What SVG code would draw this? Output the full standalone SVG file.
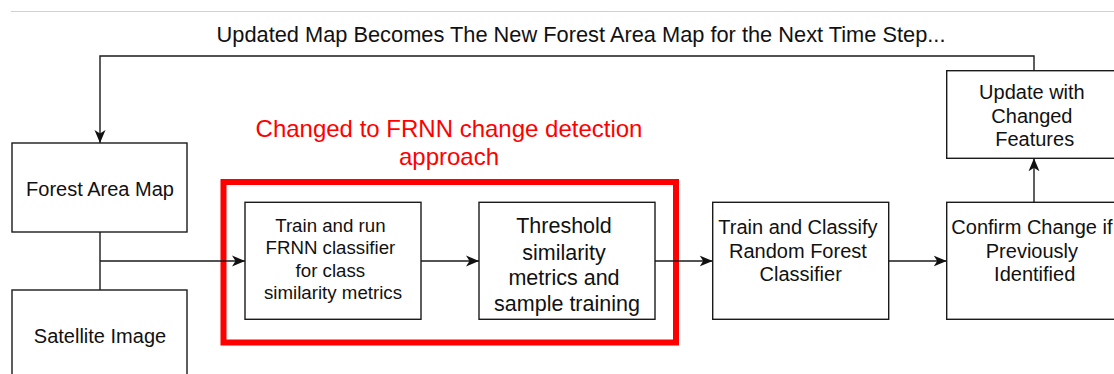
<svg xmlns="http://www.w3.org/2000/svg" width="1114" height="374" viewBox="0 0 1114 374">
  <style>
    .box { fill: #ffffff; stroke: #1a1a1a; stroke-width: 1.4; }
    .wire { fill: none; stroke: #1a1a1a; stroke-width: 1.4; }
    .lbl { font-family: "Liberation Sans", Arial, Helvetica, sans-serif; font-size: 20px; fill: #111111; text-anchor: middle; }
    .red { font-family: "Liberation Sans", Arial, Helvetica, sans-serif; font-size: 24px; fill: #ff0000; text-anchor: middle; }
  </style>
  <defs>
    <marker id="arrow" markerUnits="userSpaceOnUse" markerWidth="14" markerHeight="12" viewBox="0 0 14 12" refX="13" refY="6" orient="auto">
      <path d="M0,0.5 L13,6 L0,11.5 L3.5,6 Z" fill="#111111"/>
    </marker>
  </defs>

  <rect width="1114" height="374" fill="#ffffff"/>
  <line x1="11" y1="11.5" x2="1114" y2="11.5" stroke="#d0d0d0" stroke-width="1"/>

  <text class="lbl" x="581" y="42.3" style="font-size:21.8px">Updated Map Becomes The New Forest Area Map for the Next Time Step...</text>

  <!-- highlight frame around the FRNN stage -->
  <g id="frnn-highlight">
    <rect x="223.5" y="182" width="452.5" height="160.5" fill="none" stroke="#ff0000" stroke-width="6"/>
    <text class="red" x="449" y="136.7">Changed to FRNN change detection</text>
    <text class="red" x="449" y="165">approach</text>
  </g>

  <g id="connectors">
    <path class="wire" d="M1034,70.7 V56 H100 V143" marker-end="url(#arrow)"/>
    <path class="wire" d="M100,232 V290"/>
    <path class="wire" d="M100,261 H245" marker-end="url(#arrow)"/>
    <path class="wire" d="M421,261 H479" marker-end="url(#arrow)"/>
    <path class="wire" d="M655,261 H712.7" marker-end="url(#arrow)"/>
    <path class="wire" d="M888.7,261 H946.7" marker-end="url(#arrow)"/>
    <path class="wire" d="M1034,202.3 V158.3" marker-end="url(#arrow)"/>
  </g>

  <g id="forest-area-map">
    <rect class="box" x="12" y="143" width="175" height="89"/>
    <text class="lbl" x="100" y="196">Forest Area Map</text>
  </g>

  <g id="satellite-image">
    <rect class="box" x="12" y="290" width="175" height="100"/>
    <text class="lbl" x="100" y="343.3">Satellite Image</text>
  </g>

  <g id="frnn-classifier">
    <rect class="box" x="245" y="202.3" width="176" height="117"/>
    <text class="lbl" x="333" style="font-size:18.7px">
      <tspan x="333" y="231.7">Train and run</tspan>
      <tspan x="333" y="254">FRNN classifier</tspan>
      <tspan x="333" y="276.7">for class</tspan>
      <tspan x="333" y="298.6">similarity metrics</tspan>
    </text>
  </g>

  <g id="threshold">
    <rect class="box" x="479" y="202.3" width="176" height="117"/>
    <text class="lbl" x="567" style="font-size:21.5px">
      <tspan x="567" y="233.3">Threshold</tspan>
      <tspan x="567" y="259.5">similarity</tspan>
      <tspan x="567" y="285.2">metrics and</tspan>
      <tspan x="567" y="310.7">sample training</tspan>
    </text>
  </g>

  <g id="random-forest">
    <rect class="box" x="712.7" y="202.3" width="176" height="117"/>
    <text class="lbl" x="800.7">
      <tspan x="800.7" y="234.3">Train and Classify</tspan>
      <tspan x="800.7" y="257.7">Random Forest</tspan>
      <tspan x="800.7" y="281.3">Classifier</tspan>
    </text>
  </g>

  <g id="confirm-change">
    <rect class="box" x="946.7" y="202.3" width="176" height="117"/>
    <text class="lbl" x="1034.7">
      <tspan x="1034.7" y="234.3">Confirm Change if</tspan>
      <tspan x="1034.7" y="257.7">Previously</tspan>
      <tspan x="1034.7" y="281.3">Identified</tspan>
    </text>
  </g>

  <g id="update-features">
    <rect class="box" x="946.7" y="70.7" width="176" height="87.6"/>
    <text class="lbl" x="1034.7">
      <tspan x="1034.7" y="99.3">Update with</tspan>
      <tspan x="1034.7" y="122.7">Changed</tspan>
      <tspan x="1034.7" y="146">Features</tspan>
    </text>
  </g>
</svg>
